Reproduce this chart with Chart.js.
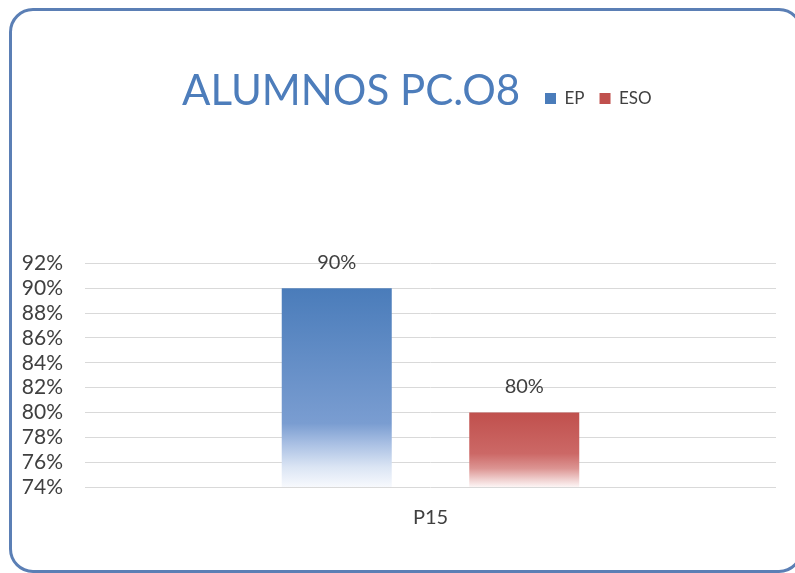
<!DOCTYPE html>
<html>
<head>
<meta charset="utf-8">
<script src="https://cdn.jsdelivr.net/npm/chart.js@4/dist/chart.umd.min.js"></script>
<style>
  html, body { margin: 0; padding: 0; background: #fff; }
  #wrap { position: relative; width: 795px; height: 573px; overflow: hidden; background: #fff; }
  #frame {
    position: absolute; left: 9px; top: 8px; right: -8px; bottom: 0;
    border: 3px solid #5b7fb5; border-radius: 24px; pointer-events: none;
  }
  canvas { position: absolute; left: 0; top: 0; }
</style>
</head>
<body>
<div id="wrap">
  <canvas id="alumnosChart" width="795" height="573"></canvas>
  <div id="frame"></div>
</div>
<script>
const categories = ['P15'];
const seriesNames = ['EP', 'ESO'];
const epValues = [90];
const esoValues = [80];
const yMin = 74;
const yMax = 92;
const yStep = 2;

const textColor = '#404040';
const font = 'Lato';

// vertical fade towards white at the foot of each bar
function barFill(solid, stops) {
  return ctx => {
    const chart = ctx.chart;
    if (ctx.type !== 'data' || !chart.chartArea) {
      return solid;
    }
    const top = chart.scales.y.getPixelForValue(ctx.raw);
    const bottom = chart.chartArea.bottom;
    const g = chart.ctx.createLinearGradient(0, top, 0, bottom);
    stops.forEach(s => g.addColorStop(s[0], s[1]));
    return g;
  };
}

// title and legend sit side by side above the plot
const headerPlacer = {
  id: 'headerPlacer',
  afterLayout(chart) {
    const t = chart.titleBlock;
    if (t) {
      t.left = 182;
      t.right = 795;
      t.top = 66;
      t.bottom = t.top + t.height;
    }
    const lg = chart.legend;
    if (lg) {
      lg.left = 530;
      lg.right = 795;
      lg.top = 75;
      lg.bottom = lg.top + lg.height;
    }
  }
};

const valueLabels = {
  id: 'valueLabels',
  afterDatasetsDraw(chart) {
    const ctx = chart.ctx;
    ctx.save();
    ctx.font = '20px ' + font;
    ctx.fillStyle = textColor;
    ctx.textAlign = 'center';
    ctx.textBaseline = 'middle';
    chart.data.datasets.forEach((ds, i) => {
      const meta = chart.getDatasetMeta(i);
      meta.data.forEach((bar, j) => {
        ctx.fillText(Math.round(ds.data[j]) + '%', bar.x, bar.y - 26);
      });
    });
    ctx.restore();
  }
};

const ctx = document.getElementById('alumnosChart').getContext('2d');
new Chart(ctx, {
  type: 'bar',
  data: {
    labels: categories,
    datasets: [
      {
        label: seriesNames[0],
        data: epValues,
        backgroundColor: barFill('#6a8fc7', [
          [0, '#4a7cba'], [0.68, '#7a9dd1'], [0.78, '#a8bfe3'], [0.9, '#dbe5f4'], [1, '#f7f9fd']
        ]),
        borderWidth: 0
      },
      {
        label: seriesNames[1],
        data: esoValues,
        backgroundColor: barFill('#d27372', [
          [0, '#c0504d'], [0.55, '#cc6866'], [0.75, '#dc9492'], [0.9, '#f0d0cf'], [1, '#fdf5f5']
        ]),
        borderWidth: 0
      }
    ]
  },
  options: {
    responsive: false,
    animation: false,
    categoryPercentage: 0.5427,
    barPercentage: 0.5867,
    layout: {
      padding: { top: 171, left: 0, right: 19, bottom: 0 }
    },
    plugins: {
      title: {
        display: true,
        text: 'ALUMNOS PC.O8',
        align: 'start',
        color: '#4d7dbb',
        font: { family: font, size: 42, weight: 'normal', lineHeight: 1.2 },
        padding: 0
      },
      legend: {
        display: true,
        position: 'top',
        align: 'start',
        labels: {
          boxWidth: 11,
          boxHeight: 11,
          padding: 15,
          color: textColor,
          font: { family: font, size: 17 }
        }
      },
      tooltip: { enabled: false }
    },
    scales: {
      x: {
        afterFit: scale => { scale.height = 86; },
        grid: { display: false, drawTicks: false },
        border: { display: false },
        ticks: {
          color: textColor,
          font: { family: font, size: 20 },
          padding: 19
        }
      },
      y: {
        min: yMin,
        max: yMax,
        afterFit: scale => { scale.width = 85; },
        grid: { color: '#d9d9d9', drawTicks: false },
        border: { display: false },
        ticks: {
          stepSize: yStep,
          autoSkip: false,
          color: textColor,
          font: { family: font, size: 21 },
          padding: 22,
          callback: v => v + '%'
        }
      }
    }
  },
  plugins: [headerPlacer, valueLabels]
});
</script>
</body>
</html>
